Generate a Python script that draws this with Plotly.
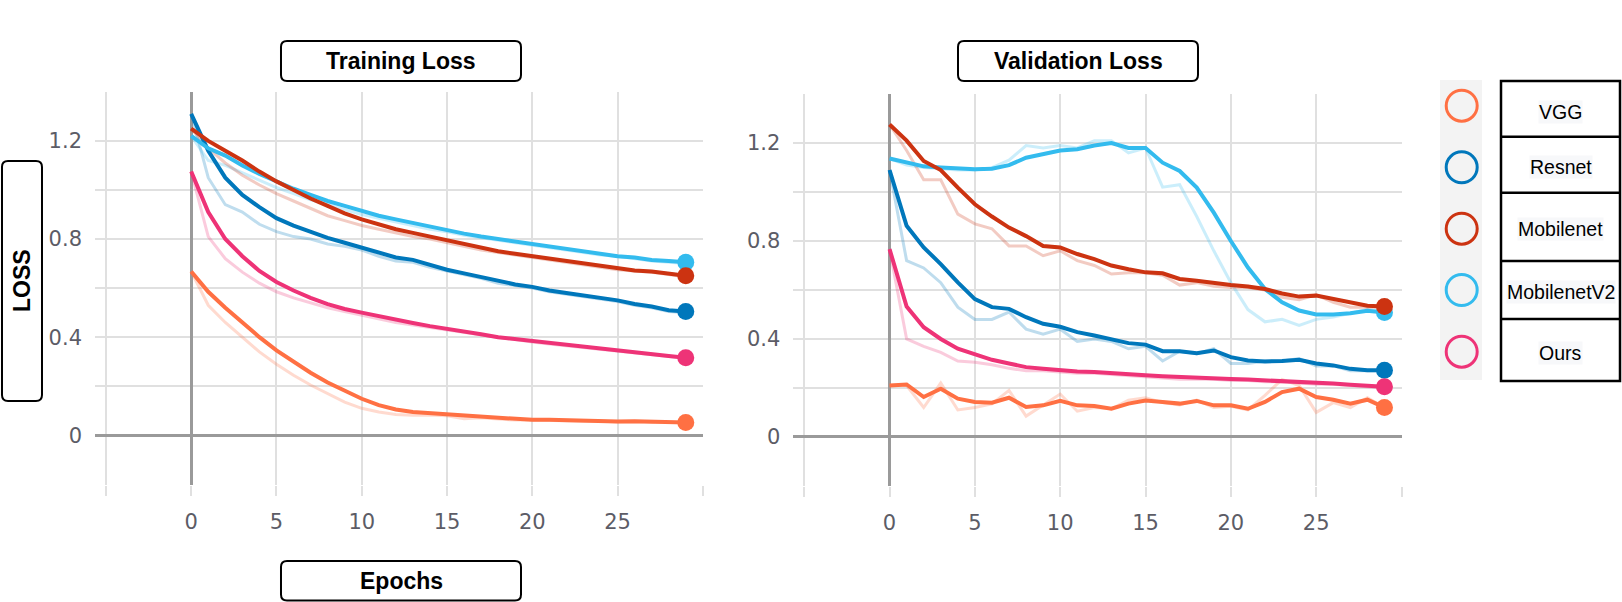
import plotly.graph_objects as go

# tamanho da figura em pixels (margens zero, entao paper == pixels)
W, H = 1622, 602

epochs = list(range(30))

# ============ Training loss (linha suavizada + linha crua do tensorboard) ============
train_vgg = [0.668, 0.585, 0.52, 0.46, 0.40, 0.346, 0.30, 0.255, 0.215, 0.18,
             0.149, 0.123, 0.105, 0.095, 0.09, 0.088, 0.08, 0.077, 0.073, 0.067,
             0.063, 0.063, 0.061, 0.058, 0.06, 0.056, 0.057, 0.054, 0.055, 0.052]
train_vgg_raw = [0.668, 0.53, 0.46, 0.40, 0.34, 0.29, 0.245, 0.205, 0.17, 0.135,
                 0.11, 0.095, 0.085, 0.082, 0.083, 0.08, 0.068, 0.072, 0.066, 0.062,
                 0.062, 0.06, 0.058, 0.057, 0.058, 0.054, 0.056, 0.052, 0.054, 0.05]
train_resnet = [1.31, 1.16, 1.05, 0.98, 0.93, 0.885, 0.855, 0.83, 0.805, 0.785,
                0.765, 0.745, 0.725, 0.715, 0.695, 0.675, 0.66, 0.645, 0.63, 0.615,
                0.605, 0.59, 0.58, 0.57, 0.56, 0.55, 0.535, 0.525, 0.51, 0.505]
train_resnet_raw = [1.31, 1.05, 0.94, 0.91, 0.86, 0.83, 0.81, 0.80, 0.78, 0.77,
                    0.755, 0.73, 0.71, 0.705, 0.685, 0.67, 0.655, 0.64, 0.62, 0.61,
                    0.60, 0.585, 0.575, 0.565, 0.555, 0.545, 0.53, 0.52, 0.505, 0.50]
train_mobilenet = [1.25, 1.20, 1.16, 1.12, 1.075, 1.035, 1.0, 0.965, 0.935, 0.905,
                   0.88, 0.86, 0.84, 0.825, 0.81, 0.795, 0.78, 0.765, 0.75, 0.74,
                   0.73, 0.72, 0.71, 0.70, 0.69, 0.68, 0.672, 0.668, 0.66, 0.65]
train_mobilenet_raw = [1.25, 1.17, 1.11, 1.06, 1.02, 0.985, 0.955, 0.925, 0.895, 0.875,
                       0.855, 0.84, 0.825, 0.81, 0.80, 0.785, 0.77, 0.755, 0.745, 0.735,
                       0.725, 0.715, 0.705, 0.695, 0.685, 0.675, 0.67, 0.665, 0.655, 0.645]
train_mobilenetv2 = [1.22, 1.17, 1.14, 1.10, 1.065, 1.035, 1.005, 0.98, 0.955, 0.935,
                     0.915, 0.895, 0.88, 0.865, 0.85, 0.835, 0.822, 0.81, 0.80, 0.79,
                     0.78, 0.77, 0.76, 0.75, 0.74, 0.73, 0.725, 0.715, 0.71, 0.705]
train_mobilenetv2_raw = [1.22, 1.12, 1.10, 1.07, 1.04, 1.01, 0.985, 0.96, 0.94, 0.92,
                         0.90, 0.885, 0.87, 0.855, 0.84, 0.83, 0.815, 0.805, 0.795, 0.785,
                         0.775, 0.765, 0.755, 0.745, 0.735, 0.73, 0.72, 0.71, 0.705, 0.70]
train_ours = [1.075, 0.91, 0.80, 0.73, 0.67, 0.625, 0.59, 0.56, 0.535, 0.515,
              0.50, 0.485, 0.47, 0.458, 0.445, 0.435, 0.423, 0.412, 0.40, 0.392,
              0.383, 0.375, 0.367, 0.36, 0.352, 0.345, 0.337, 0.33, 0.323, 0.316]
train_ours_raw = [1.075, 0.81, 0.72, 0.665, 0.62, 0.585, 0.56, 0.54, 0.52, 0.505,
                  0.49, 0.475, 0.46, 0.45, 0.44, 0.43, 0.42, 0.41, 0.398, 0.39,
                  0.38, 0.372, 0.365, 0.357, 0.35, 0.343, 0.335, 0.328, 0.32, 0.314]

# ============ Validation loss ============
val_vgg = [0.21, 0.214, 0.163, 0.197, 0.156, 0.143, 0.14, 0.16, 0.122, 0.129,
           0.147, 0.129, 0.126, 0.115, 0.136, 0.149, 0.143, 0.136, 0.147, 0.129,
           0.129, 0.115, 0.143, 0.183, 0.197, 0.163, 0.152, 0.136, 0.152, 0.12]
val_vgg_raw = [0.21, 0.21, 0.12, 0.22, 0.11, 0.12, 0.135, 0.19, 0.085, 0.13,
               0.175, 0.105, 0.12, 0.115, 0.15, 0.16, 0.14, 0.13, 0.15, 0.12,
               0.125, 0.11, 0.17, 0.235, 0.21, 0.10, 0.14, 0.12, 0.16, 0.12]
val_resnet = [1.09, 0.862, 0.774, 0.706, 0.631, 0.563, 0.53, 0.523, 0.489, 0.462,
              0.45, 0.428, 0.414, 0.40, 0.383, 0.377, 0.35, 0.35, 0.342, 0.353,
              0.326, 0.312, 0.308, 0.31, 0.315, 0.30, 0.292, 0.278, 0.272, 0.272]
val_resnet_raw = [1.09, 0.72, 0.69, 0.63, 0.53, 0.48, 0.48, 0.51, 0.44, 0.42,
                  0.44, 0.39, 0.40, 0.39, 0.36, 0.37, 0.31, 0.35, 0.34, 0.36,
                  0.30, 0.30, 0.31, 0.31, 0.32, 0.29, 0.29, 0.27, 0.27, 0.27]
val_mobilenet = [1.276, 1.21, 1.127, 1.09, 1.018, 0.95, 0.90, 0.855, 0.82, 0.78,
                 0.774, 0.747, 0.726, 0.70, 0.685, 0.672, 0.668, 0.645, 0.638, 0.627,
                 0.62, 0.614, 0.604, 0.586, 0.573, 0.577, 0.563, 0.546, 0.536, 0.533]
val_mobilenet_raw = [1.276, 1.17, 1.05, 1.05, 0.91, 0.87, 0.85, 0.78, 0.78, 0.74,
                     0.76, 0.72, 0.70, 0.665, 0.67, 0.67, 0.66, 0.62, 0.63, 0.615,
                     0.61, 0.61, 0.60, 0.57, 0.56, 0.58, 0.55, 0.53, 0.53, 0.53]
val_mobilenetv2 = [1.137, 1.12, 1.105, 1.10, 1.095, 1.093, 1.095, 1.11, 1.14, 1.155,
                   1.17, 1.175, 1.19, 1.20, 1.18, 1.18, 1.12, 1.086, 1.018, 0.916,
                   0.80, 0.692, 0.604, 0.55, 0.516, 0.50, 0.50, 0.505, 0.515, 0.508]
val_mobilenetv2_raw = [1.137, 1.11, 1.10, 1.095, 1.09, 1.09, 1.10, 1.13, 1.19, 1.18,
                       1.19, 1.18, 1.21, 1.21, 1.16, 1.18, 1.02, 1.03, 0.90, 0.76,
                       0.63, 0.52, 0.47, 0.48, 0.455, 0.48, 0.49, 0.505, 0.52, 0.51]
val_ours = [0.767, 0.532, 0.448, 0.40, 0.36, 0.337, 0.315, 0.30, 0.285, 0.278,
            0.271, 0.267, 0.265, 0.262, 0.258, 0.252, 0.248, 0.244, 0.24, 0.24,
            0.236, 0.234, 0.231, 0.228, 0.228, 0.222, 0.218, 0.213, 0.209, 0.205]
val_ours_raw = [0.767, 0.40, 0.37, 0.345, 0.31, 0.305, 0.295, 0.28, 0.27, 0.27,
                0.265, 0.26, 0.26, 0.255, 0.25, 0.245, 0.24, 0.235, 0.235, 0.235,
                0.23, 0.23, 0.225, 0.225, 0.22, 0.215, 0.215, 0.21, 0.205, 0.20]

# nomes e cores (paleta do tensorboard)
models = ['VGG', 'Resnet', 'Mobilenet', 'MobilenetV2', 'Ours']
colors = {'VGG': '#ff7043', 'Resnet': '#0077bb', 'Mobilenet': '#cc3311',
          'MobilenetV2': '#33bbee', 'Ours': '#ee3377'}

train = {'VGG': (train_vgg, train_vgg_raw), 'Resnet': (train_resnet, train_resnet_raw),
         'Mobilenet': (train_mobilenet, train_mobilenet_raw),
         'MobilenetV2': (train_mobilenetv2, train_mobilenetv2_raw),
         'Ours': (train_ours, train_ours_raw)}
val = {'VGG': (val_vgg, val_vgg_raw), 'Resnet': (val_resnet, val_resnet_raw),
       'Mobilenet': (val_mobilenet, val_mobilenet_raw),
       'MobilenetV2': (val_mobilenetv2, val_mobilenetv2_raw),
       'Ours': (val_ours, val_ours_raw)}

# ordem de desenho (o vermelho fica por cima do ciano no final)
draw_order = ['VGG', 'Resnet', 'MobilenetV2', 'Mobilenet', 'Ours']


def pxx(x):
    return x / W


def pxy(y):
    return 1 - y / H


fig = go.Figure()

for data, xa, ya in [(train, 'x', 'y'), (val, 'x2', 'y2')]:
    # linhas cruas (claras) primeiro
    for m in draw_order:
        fig.add_trace(go.Scatter(x=epochs, y=data[m][1], mode='lines', xaxis=xa, yaxis=ya,
                                 line=dict(color=colors[m], width=3), opacity=0.25,
                                 hoverinfo='skip'))
    # linhas suavizadas + ponto final
    for m in draw_order:
        fig.add_trace(go.Scatter(x=epochs, y=data[m][0], mode='lines', xaxis=xa, yaxis=ya,
                                 line=dict(color=colors[m], width=4), name=m))
        fig.add_trace(go.Scatter(x=[epochs[-1]], y=[data[m][0][-1]], mode='markers',
                                 xaxis=xa, yaxis=ya,
                                 marker=dict(color=colors[m], size=17), hoverinfo='skip'))

tick_font = dict(family='DejaVu Sans', size=21, color='#5c5c66')
xvals = list(range(-5, 31, 5))
xtext = ['' if v < 0 or v > 25 else str(v) for v in xvals]
yvals = [-0.2, 0, 0.2, 0.4, 0.6, 0.8, 1.0, 1.2, 1.4]
ytext = ['', '0', '', '0.4', '', '0.8', '', '1.2', '']

xaxis_style = dict(range=[-5.64, 30.01], tickvals=xvals, ticktext=xtext, showgrid=True,
                   gridcolor='#e0e0e0', gridwidth=2, zeroline=True, zerolinecolor='#9a9a9a',
                   zerolinewidth=2.5, ticks='outside', ticklen=10, tickcolor='#e0e0e0',
                   tickwidth=2, showline=False, tickfont=tick_font, ticklabelstandoff=8)
yaxis_style = dict(range=[-0.2005, 1.4005], tickvals=yvals, ticktext=ytext, showgrid=True,
                   gridcolor='#e0e0e0', gridwidth=2, zeroline=True, zerolinecolor='#9a9a9a',
                   zerolinewidth=2.5, ticks='', showline=False, tickfont=tick_font,
                   ticklabelstandoff=12)

fig.update_layout(
    width=W, height=H, margin=dict(l=0, r=0, t=0, b=0),
    plot_bgcolor='white', paper_bgcolor='white', showlegend=False,
    xaxis=dict(domain=[pxx(95), pxx(703)], **xaxis_style),
    yaxis=dict(domain=[pxy(484.5), pxy(91.7)], **yaxis_style),
    xaxis2=dict(domain=[pxx(793.3), pxx(1401.7)], anchor='y2', **xaxis_style),
    yaxis2=dict(domain=[pxy(486), pxy(94)], anchor='x2', **yaxis_style),
)


# caixas com cantos arredondados (em pixels -> paper)
def rounded_box(x0, y0, x1, y1, r=6):
    pts = [('M', x0 + r, y0), ('L', x1 - r, y0), ('Q', x1, y0, x1, y0 + r),
           ('L', x1, y1 - r), ('Q', x1, y1, x1 - r, y1), ('L', x0 + r, y1),
           ('Q', x0, y1, x0, y1 - r), ('L', x0, y0 + r), ('Q', x0, y0, x0 + r, y0)]
    path = ''
    for p in pts:
        coords = p[1:]
        s = ' '.join('%.5f,%.5f' % (pxx(coords[i]), pxy(coords[i + 1]))
                     for i in range(0, len(coords), 2))
        path += p[0] + ' ' + s + ' '
    return dict(type='path', path=path + 'Z', xref='paper', yref='paper',
                line=dict(color='black', width=2), fillcolor='white', layer='above')


shapes = [rounded_box(281, 41, 521, 81), rounded_box(958, 41, 1198, 81),
          rounded_box(281, 561, 521, 600.5), rounded_box(2, 161, 42, 401)]

# legenda: fundo cinza, circulos e tabela
shapes.append(dict(type='rect', xref='paper', yref='paper', x0=pxx(1440), x1=pxx(1482),
                   y0=pxy(380), y1=pxy(80), fillcolor='#f3f3f3', line=dict(width=0),
                   layer='below'))
circle_y = [105.7, 167.3, 228.7, 290, 351.7]
for m, cy in zip(models, circle_y):
    shapes.append(dict(type='circle', xref='paper', yref='paper',
                       x0=pxx(1461.7 - 15.5), x1=pxx(1461.7 + 15.5),
                       y0=pxy(cy + 15.5), y1=pxy(cy - 15.5),
                       line=dict(color=colors[m], width=3)))
shapes.append(dict(type='rect', xref='paper', yref='paper', x0=pxx(1501), x1=pxx(1620),
                   y0=pxy(381), y1=pxy(81), line=dict(color='black', width=2.5)))
for dy in [136.7, 192.7, 261, 319]:
    shapes.append(dict(type='line', xref='paper', yref='paper', x0=pxx(1501), x1=pxx(1620),
                       y0=pxy(dy), y1=pxy(dy), line=dict(color='black', width=2.5)))

fig.update_layout(shapes=shapes)

title_font = dict(family='Liberation Sans', size=23, color='black')
annotations = [
    dict(text='<b>Training Loss</b>', x=pxx(401), y=pxy(61), font=title_font),
    dict(text='<b>Validation Loss</b>', x=pxx(1078), y=pxy(61), font=title_font),
    dict(text='<b>Epochs</b>', x=pxx(401), y=pxy(581), font=title_font),
    dict(text='<b>LOSS</b>', x=pxx(22), y=pxy(281), font=title_font, textangle=-90),
]
label_y = [111.7, 167, 229, 291.7, 353]
for m, ly in zip(models, label_y):
    annotations.append(dict(text=m, x=pxx(1560.5), y=pxy(ly), bgcolor='#f7f8fa',
                            font=dict(family='Liberation Sans', size=19.5, color='black'),
                            borderpad=0))
for a in annotations:
    a.update(xref='paper', yref='paper', showarrow=False, xanchor='center', yanchor='middle')
fig.update_layout(annotations=annotations)

# tira a margem padrao do body para a figura ocupar a janela toda
fig.write_html("out.html", config={'displayModeBar': False},
               post_script="document.body.style.margin='0px';")
